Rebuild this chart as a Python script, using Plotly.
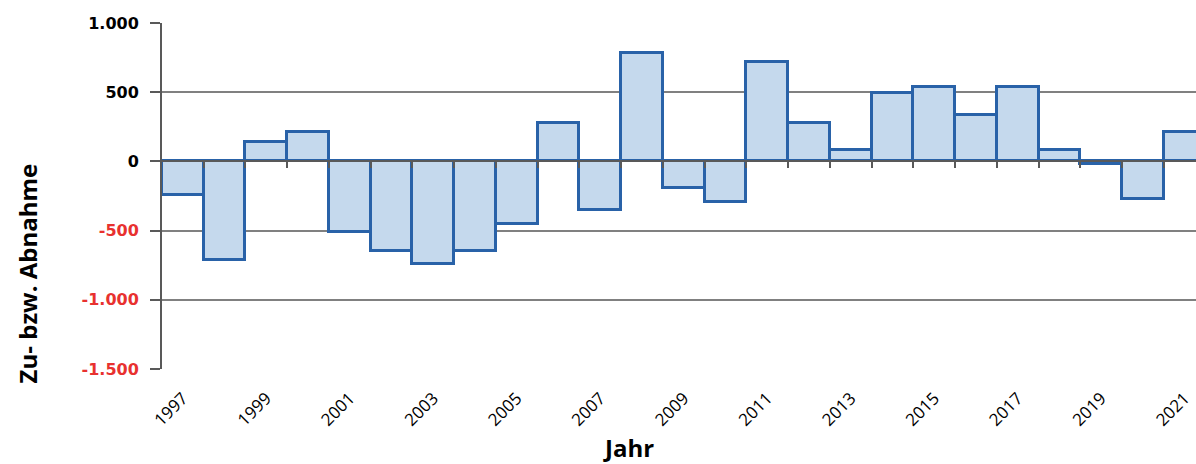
import plotly.graph_objects as go

years = list(range(1997, 2022))
values = [-240, -710, 140, 215, -510, -650, -740, -650, -455, 280,
          -350, 780, -190, -290, 715, 275, 85, 495, 535, 335,
          535, 85, -20, -270, 215]

y_ticks = [1000, 500, 0, -500, -1000, -1500]
y_ticklabels = ["1.000", "500", "0", "-500", "-1.000", "-1.500"]
x_ticks = years[::2]

fill_col = "rgb(197,217,237)"
edge_col = "rgb(41,98,168)"
grid_col = "#808080"
axis_col = "#595959"
red = "#e8312f"

font_main = "Open Sans, Noto Sans, sans-serif"
font_ytick = "DejaVu Sans, sans-serif"

ytext = []
for v, t in zip(y_ticks, y_ticklabels):
    if v < 0:
        ytext.append('<span style="color:%s">%s</span>' % (red, t))
    else:
        ytext.append(t)

fig = go.Figure()

fig.add_trace(go.Bar(
    x=years, y=values,
    width=1.0,
    marker=dict(color=fill_col, line=dict(color=edge_col, width=3)),
    showlegend=False,
))

# invisible trace so the zero-line axis (with its tick marks) is drawn
fig.add_trace(go.Scatter(
    x=[years[0]], y=[0], xaxis="x2", mode="markers",
    marker=dict(opacity=0), showlegend=False, hoverinfo="skip",
))

x_range = [1996.5, 2021.27]
y_range = [-1500, 1000]

fig.update_layout(
    width=1196, height=464,
    margin=dict(l=162, r=0, t=23, b=95, autoexpand=False),
    plot_bgcolor="white", paper_bgcolor="white",
    bargap=0,
    font=dict(family=font_main, color="black"),
    xaxis=dict(
        range=x_range, automargin=False,
        tickmode="array", tickvals=x_ticks,
        ticktext=[str(y) for y in x_ticks],
        tickangle=-45,
        tickfont=dict(size=17, family=font_main, color="black"),
        ticklabelstandoff=15,
        showgrid=False, zeroline=False, showline=False,
        ticks="",
    ),
    xaxis2=dict(
        range=x_range, overlaying="x", anchor="free", automargin=False,
        position=(0 - y_range[0]) / (y_range[1] - y_range[0]),
        side="bottom",
        tickmode="array",
        tickvals=[y + 0.5 for y in years[:-1]],
        showticklabels=False,
        ticks="outside", ticklen=6, tickwidth=1.5, tickcolor=axis_col,
        showline=True, linecolor=axis_col, linewidth=2,
        showgrid=False, zeroline=False,
    ),
    yaxis=dict(
        range=y_range, automargin=False,
        tickmode="array", tickvals=y_ticks, ticktext=ytext,
        tickfont=dict(size=16, family=font_ytick, color="black", weight="bold"),
        ticklabelstandoff=8,
        showgrid=True, gridcolor=grid_col, gridwidth=1.5,
        zeroline=False,
        showline=True, linecolor=axis_col, linewidth=2,
        ticks="outside", ticklen=10, tickwidth=1.5, tickcolor=axis_col,
    ),
)

fig.add_annotation(
    text="Zu- bzw. Abnahme", textangle=-90,
    xref="paper", yref="paper", x=-0.13, y=0.275,
    xanchor="center", yanchor="middle", showarrow=False,
    font=dict(size=24, family=font_main, color="black", weight="bold"),
)
fig.add_annotation(
    text="Jahr",
    xref="paper", yref="paper", x=0.451, y=-0.228,
    xanchor="center", yanchor="middle", showarrow=False,
    font=dict(size=24, family=font_main, color="black", weight="bold"),
)

fig.write_html("out.html", config={"displayModeBar": False},
               post_script="document.body.style.margin='0';")
